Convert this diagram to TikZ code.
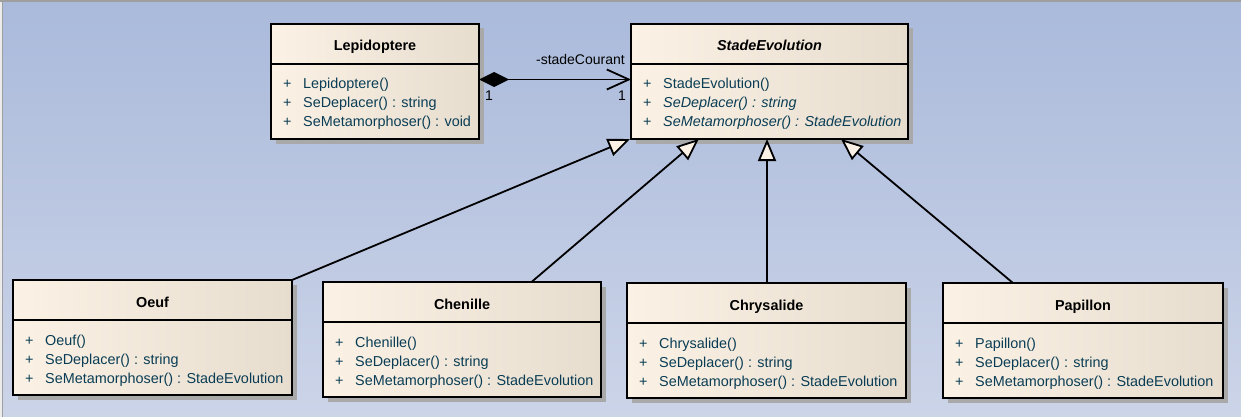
\documentclass[tikz,border=0pt]{standalone}
\usepackage{fontspec}
\setmainfont{Liberation Sans}
\usetikzlibrary{arrows.meta,calc,shadows}
\definecolor{bgtop}{HTML}{AABADB}
\definecolor{bgbot}{HTML}{CCD4E8}
\definecolor{creamL}{HTML}{FBF2E5}
\definecolor{creamR}{HTML}{E6DDCF}
\definecolor{shadowgray}{HTML}{A9A9A9}
\definecolor{membercol}{HTML}{0A3D55}
\newcommand{\umlclass}[8]{%
  \node[classbox, minimum width=#4] (#1) at (#2,#3) {};
  \draw[line width=2pt] (#2,#3+40) -- (#2+#4,#3+40);
  \node[titletext] (#1-title) at (#2+#4/2,#3+27) {#5};
  \node[membertext] (#1-p1) at (#2+12,#3+65) {+};
  \node[membertext] (#1-p2) at (#2+12,#3+84) {+};
  \node[membertext] (#1-p3) at (#2+12,#3+103) {+};
  \node[membertext] (#1-m1) at (#2+32,#3+65) {#6};
  \node[membertext] (#1-m2) at (#2+32,#3+84) {#7};
  \node[membertext] (#1-m3) at (#2+32,#3+103) {#8};
}
\begin{document}
\begin{tikzpicture}[x=1pt,y=-1pt,
  classbox/.style={draw=black, line width=2pt, rectangle, anchor=north west,
    left color=creamL, right color=creamR, minimum height=115pt,
    inner sep=0pt, outer sep=0pt,
    drop shadow={shadow xshift=4.5pt, shadow yshift=-4.5pt, fill=shadowgray, opacity=1}},
  titletext/.style={anchor=base, inner sep=0pt, font=\fontsize{14.4}{17}\selectfont\bfseries, text=black},
  membertext/.style={anchor=base west, inner sep=0pt, font=\fontsize{14.4}{17}\selectfont, text=membercol},
  lbltext/.style={inner sep=0pt, font=\fontsize{14}{17}\selectfont, text=black},
  comp/.style={line width=1.8pt, {Diamond[length=30pt,width=15pt,fill=black]}-{Straight Barb[length=22pt,width=20pt]}},
  inh/.style={line width=1.8pt, -{Triangle[open,fill=creamL,length=22pt,width=18pt]}}
]
\useasboundingbox (0,0) rectangle (1241,417);
\shade[top color=bgtop, bottom color=bgbot] (0,0) rectangle (1241,417);
\fill[gray!15] (0,0) rectangle (2,417);
\draw[gray!75, line width=1pt] (2.5,0) -- (2.5,417);
\draw[gray!75, line width=1.2pt] (0,1) -- (1241,1);

\umlclass{lep}{271}{24}{208}{Lepidoptere}{Lepidoptere()}{SeDeplacer() : string}{SeMetamorphoser() : void}
\umlclass{stade}{631}{24}{277}{\itshape StadeEvolution}{StadeEvolution()}{\itshape SeDeplacer() : string}{\itshape SeMetamorphoser() : StadeEvolution}
\umlclass{oeuf}{13}{280}{279}{Oeuf}{Oeuf()}{SeDeplacer() : string}{SeMetamorphoser() : StadeEvolution}
\umlclass{chen}{323}{282}{278}{Chenille}{Chenille()}{SeDeplacer() : string}{SeMetamorphoser() : StadeEvolution}
\umlclass{chrys}{627}{283}{279}{Chrysalide}{Chrysalide()}{SeDeplacer() : string}{SeMetamorphoser() : StadeEvolution}
\umlclass{pap}{943}{283}{280}{Papillon}{Papillon()}{SeDeplacer() : string}{SeMetamorphoser() : StadeEvolution}

% composition
\draw[comp] ([yshift=2pt]lep.east) -- ([yshift=2pt]lep.east -| stade.west);
\node[lbltext, anchor=base east] (role) at (625,65) {-stadeCourant};
\node[lbltext, anchor=base west] (mlep) at (485,101) {1};
\node[lbltext, anchor=base east] (mstade) at (626,101) {1};

% generalisations
\draw[inh] (oeuf.north east) -- ([xshift=-1pt]stade.south west);
\draw[inh] ($(chen.north west)!0.75!(chen.north east)$) -- ($(stade.south west)!0.245!(stade.south east)$);
\draw[inh] ([xshift=0.5pt]chrys.north) -- ([xshift=0.5pt]chrys.north |- stade.south);
\draw[inh] ($(pap.north west)!0.25!(pap.north east)$) -- ($(stade.south west)!0.758!(stade.south east)$);
\end{tikzpicture}
\end{document}
